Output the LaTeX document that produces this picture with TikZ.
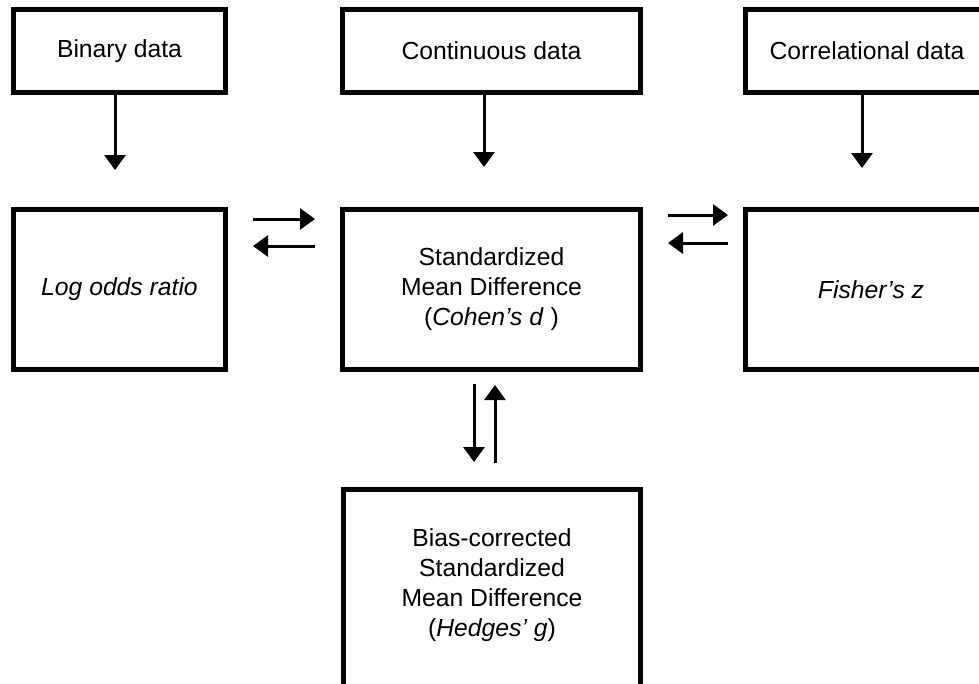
\documentclass[tikz,border=0pt]{standalone}
\usepackage{fontspec}
\setmainfont{Liberation Sans}
\usetikzlibrary{arrows.meta}
\begin{document}
\begin{tikzpicture}[x=1pt,y=1pt,
  box/.style={draw=black, line width=5pt, fill=white, inner sep=0pt},
  lbl/.style={font=\fontsize{24.7}{30}\selectfont, align=center, inner sep=0pt},
  arr/.style={line width=3pt, -{Triangle[length=15pt,width=21pt]}}]
\useasboundingbox (0,0) rectangle (979,-683);
\clip (0,0) rectangle (979,-683);

% data sources
\node[box, lbl, minimum width=212pt, minimum height=83pt] (bin) at (119.5,-51) {Binary data};
\node[box, lbl, minimum width=298pt, minimum height=83pt] (con) at (491.5,-51) {Continuous data};
\node[box, lbl, minimum width=243pt, minimum height=83pt] (cor) at (867,-51) {Correlational data};

% effect sizes
\node[box, lbl, minimum width=212pt, minimum height=160pt] (lor) at (119.5,-289.5) {\textit{Log odds ratio}};
\node[box, lbl, minimum width=298pt, minimum height=160pt] (smd) at (491.5,-289.5)
  {Standardized\\Mean Difference\\(\textit{Cohen’s d} )};
\node[box, lbl, minimum width=251pt, minimum height=160pt] (fz) at (871,-289.5) {\textit{Fisher’s z}};
\node[box, minimum width=297pt, minimum height=228pt] (hg) at (492,-603.5) {};
\node[lbl] (hgtext) at (492,-585) {Bias-corrected\\Standardized\\Mean Difference\\(\textit{Hedges’ g})};

% arrows from the data boxes
\coordinate (binT) at (115,-170);
\coordinate (conT) at (484,-167);
\coordinate (corT) at (862,-168);
\draw[arr] (bin.south -| binT) -- (binT);
\draw[arr] (con.south -| conT) -- (conT);
\draw[arr] (cor.south -| corT) -- (corT);

% conversions between effect sizes
\draw[arr] ([shift={(25,70.5)}]lor.east) -- ([shift={(-25,70.5)}]smd.west);
\draw[arr] ([shift={(-25,43.5)}]smd.west) -- ([shift={(25,43.5)}]lor.east);
\draw[arr] ([shift={(25,74.5)}]smd.east) -- ([shift={(-15,74.5)}]fz.west);
\draw[arr] ([shift={(-15,46.5)}]fz.west) -- ([shift={(25,46.5)}]smd.east);
\draw[arr] ([shift={(-17.5,-12)}]smd.south) -- ([shift={(-18,25)}]hg.north);
\draw[arr] ([shift={(3,24)}]hg.north) -- ([shift={(3.5,-13)}]smd.south);
\end{tikzpicture}
\end{document}
